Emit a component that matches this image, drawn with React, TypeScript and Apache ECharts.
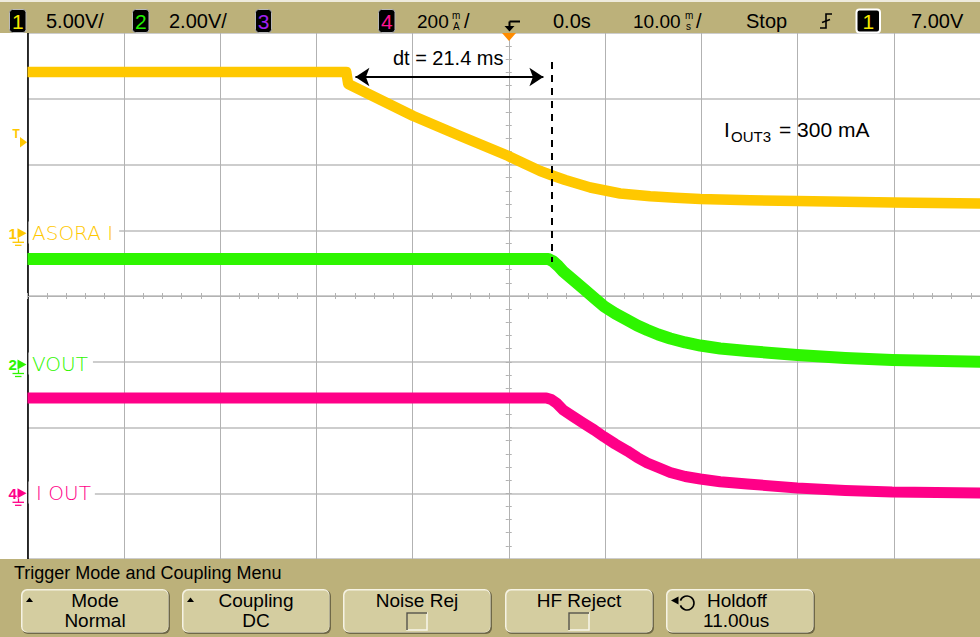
import React, { useEffect, useRef } from 'react';
import * as echarts from 'echarts';

// ---- Data (time in ms, vertical position in screen divisions; 0 = centre line) ----
const yellowTime = [-50, -16.88, -16.68, -13.35, -9.92, -5.04, -0.05, 1.71, 3.27, 4.52, 5.87, 8.47, 11.58, 14.7, 17.3, 19.9, 25.09, 29.97, 39.95, 50];
const yellowDiv = [3.407, 3.407, 3.224, 2.986, 2.738, 2.433, 2.129, 2.008, 1.901, 1.833, 1.764, 1.65, 1.559, 1.516, 1.494, 1.475, 1.456, 1.445, 1.422, 1.407];

const greenTime = [-50, 4.1, 4.62, 5.14, 5.66, 6.7, 7.74, 8.88, 9.92, 11.06, 12.31, 13.35, 14.39, 15.53, 16.78, 18.34, 19.9, 21.97, 24.78, 29.97, 34.96, 39.84, 50];
const greenDiv = [0.563, 0.563, 0.525, 0.456, 0.373, 0.243, 0.114, -0.03, -0.16, -0.266, -0.365, -0.449, -0.517, -0.586, -0.646, -0.707, -0.753, -0.798, -0.837, -0.897, -0.943, -0.973, -1.004];

const pinkTime = [-50, 3.9, 4.42, 4.94, 5.66, 6.7, 7.74, 8.88, 9.92, 11.06, 12.31, 13.35, 14.39, 15.53, 16.78, 18.34, 19.9, 21.97, 24.78, 29.97, 34.96, 39.84, 50];
const pinkDiv = [-1.551, -1.551, -1.574, -1.627, -1.734, -1.833, -1.932, -2.038, -2.144, -2.251, -2.357, -2.456, -2.54, -2.608, -2.684, -2.745, -2.783, -2.826, -2.859, -2.92, -2.958, -2.981, -2.996];

// annotation values
const dtStart = -15.93; // arrow (symbol centre) left
const dtEnd = 3.6; // arrow (symbol centre) right
const dtLevel = 3.331;
const cursorTime = 4.49;
const cursorTop = 3.559;
const cursorBottom = 0.517;
const dtLabel = 'dt = 21.4 ms';
const dtLabelPos = [-6.29, 3.62];

const topTexts = ['5.00V/', '2.00V/', '200', '0.0s', '10.00', 'Stop', '7.00V'];
const menuTitle = 'Trigger Mode and Coupling Menu';

const FONT = '"Liberation Sans", Arial, Helvetica, sans-serif';
const BAR = '#BCB17A';
const FACE = '#D4CDA0';
const GRID_V = '#B2B2B2';
const GRID_H = '#CDCDCD';
const C_YEL = '#FFC800';
const C_GRN = '#2EF500';
const C_PNK = '#FF0088';

const pairs = (xs: number[], ys: number[]) => xs.map((x, i) => [x, ys[i]]);

function txt(x: number, y: number, text: string, size: number, fill = '#000', align = 'left', extra: any = {}) {
  return {
    type: 'text', x, y, z: 110, silent: true,
    style: { text, fill, fontSize: size, fontFamily: FONT, align, verticalAlign: 'middle', ...extra },
  };
}

function chBox(x: number, w: number, label: string, color: string, border = '#B8B8B8', bw = 1) {
  return [
    { type: 'rect', z: 105, silent: true, shape: { x, y: 9.5, width: w, height: 23, r: 3 }, style: { fill: '#000', stroke: border, lineWidth: bw } },
    txt(x + w / 2, 21.5, label, 21, color, 'center'),
  ];
}

function chMarker(digit: string, color: string, yc: number) {
  return [
    txt(8.5, yc, digit, 15, color, 'left', { fontWeight: 'bold' }),
    { type: 'polygon', z: 60, silent: true, shape: { points: [[17.5, yc - 5], [17.5, yc + 5], [26.5, yc]] }, style: { fill: color } },
    { type: 'line', z: 60, silent: true, shape: { x1: 18.5, y1: yc + 5, x2: 18.5, y2: yc + 9 }, style: { stroke: color, lineWidth: 1.3 } },
    { type: 'line', z: 60, silent: true, shape: { x1: 12.5, y1: yc + 9, x2: 24, y2: yc + 9 }, style: { stroke: color, lineWidth: 1.3 } },
    { type: 'line', z: 60, silent: true, shape: { x1: 15, y1: yc + 12, x2: 21.5, y2: yc + 12 }, style: { stroke: color, lineWidth: 1.3 } },
  ];
}

function button(bx: number, l1: string, l2: string | null, kind: string) {
  const cx = bx + 74;
  const els: any[] = [
    { type: 'rect', z: 101, silent: true, shape: { x: bx + 1, y: 590, width: 148, height: 44, r: 6 }, style: { fill: '#6F6847' } },
    { type: 'rect', z: 102, silent: true, shape: { x: bx, y: 589, width: 147.5, height: 43.5, r: 6 }, style: { fill: '#F6F3E4' } },
    { type: 'rect', z: 103, silent: true, shape: { x: bx + 1.5, y: 590.5, width: 145.5, height: 41.5, r: 5 }, style: { fill: FACE } },
  ];
  if (kind === 'tri') {
    els.push({ type: 'polygon', z: 110, silent: true, shape: { points: [[bx + 5, 602], [bx + 12, 602], [bx + 8.5, 597.5]] }, style: { fill: '#000' } });
  }
  if (kind === 'hold') {
    els.push(txt(707, 600.5, l1, 19));
    els.push(txt(703, 620.5, l2 as string, 19));
    els.push({ type: 'arc', z: 110, silent: true, shape: { cx: 687, cy: 603, r: 7, startAngle: (200 * Math.PI) / 180, endAngle: (520 * Math.PI) / 180, clockwise: true }, style: { stroke: '#000', lineWidth: 1.6, fill: null } });
    els.push({ type: 'polygon', z: 110, silent: true, shape: { points: [[671, 600.5], [678.5, 596.5], [678.5, 604.5]] }, style: { fill: '#000' } });
    return els;
  }
  els.push(txt(cx, 600.5, l1, 19, '#000', 'center'));
  if (l2) els.push(txt(cx, 620.5, l2, 19, '#000', 'center'));
  if (kind === 'check') {
    els.push({ type: 'rect', z: 110, silent: true, shape: { x: cx - 10, y: 613, width: 20, height: 17 }, style: { fill: FACE, stroke: '#F8F6EA', lineWidth: 1.5 } });
    els.push({ type: 'polyline', z: 111, silent: true, shape: { points: [[cx - 10, 630], [cx - 10, 613], [cx + 10, 613]] }, style: { stroke: '#55523F', lineWidth: 1.5, fill: null } });
  }
  return els;
}

const tickAxis = (pos: string) => ({
  type: 'value', min: -50, max: 50, interval: 10, position: pos,
  axisLine: { show: true, onZero: true, onZeroAxisIndex: 0, lineStyle: { color: GRID_V, width: 1 } },
  axisTick: { show: true, length: 3, lineStyle: { color: GRID_V } },
  minorTick: { show: true, splitNumber: 5, length: 3, lineStyle: { color: GRID_V } },
  axisLabel: { show: false },
  splitLine: { show: false },
});

const vTickAxis = (pos: string) => ({
  type: 'value', min: -4, max: 4, interval: 1, position: pos,
  axisLine: { show: true, onZero: true, onZeroAxisIndex: 0, lineStyle: { color: GRID_V, width: 1 } },
  axisTick: { show: true, length: 3, lineStyle: { color: GRID_V } },
  minorTick: { show: true, splitNumber: 5, length: 3, lineStyle: { color: GRID_V } },
  axisLabel: { show: false },
  splitLine: { show: false },
});

const traceStyle = (color: string, width: number) => ({
  showSymbol: false, symbol: 'none', silent: true, z: 3,
  smooth: false,
  lineStyle: { color, width, join: 'round' },
});

export default function App() {
  const ref = useRef<HTMLDivElement>(null);
  useEffect(() => {
    const chart = echarts.init(ref.current as HTMLDivElement, null, { renderer: 'svg' });

    const graphic: any[] = [
      // top status bar
      { type: 'rect', z: 100, silent: true, shape: { x: 0, y: 0, width: 992, height: 33 }, style: { fill: BAR } },
      { type: 'rect', z: 101, silent: true, shape: { x: 0, y: 0, width: 992, height: 2 }, style: { fill: '#EEEBDD' } },
      ...chBox(9.5, 16.5, '1', '#F5E800'),
      txt(46, 21, topTexts[0], 20),
      ...chBox(132.5, 16.5, '2', '#22EE00'),
      txt(169, 21, topTexts[1], 20),
      ...chBox(255.5, 16, '3', '#A020F0'),
      ...chBox(378.5, 16.5, '4', '#FF1493'),
      txt(417, 21, topTexts[2], 19),
      txt(452, 15.5, 'm', 10),
      txt(453, 26, 'A', 10),
      txt(464, 21, '/', 20),
      // trigger position symbol
      { type: 'line', z: 110, silent: true, shape: { x1: 509.5, y1: 21.5, x2: 520, y2: 21.5 }, style: { stroke: '#000', lineWidth: 2 } },
      { type: 'line', z: 110, silent: true, shape: { x1: 509.5, y1: 21.5, x2: 509.5, y2: 27 }, style: { stroke: '#000', lineWidth: 2 } },
      { type: 'polygon', z: 110, silent: true, shape: { points: [[504.5, 26], [514.5, 26], [509.5, 31.5]] }, style: { fill: '#000' } },
      { type: 'polygon', z: 110, silent: true, shape: { points: [[502, 33], [516, 33], [509, 41]] }, style: { fill: '#FF8C00' } },
      txt(553, 21, topTexts[3], 20),
      txt(633, 21, topTexts[4], 19),
      txt(685, 15.5, 'm', 10),
      txt(686, 26, 's', 10),
      txt(696, 21, '/', 20),
      txt(746, 21, topTexts[5], 20),
      { type: 'polyline', z: 110, silent: true, shape: { points: [[820, 28], [826, 28], [826, 14], [832, 14]] }, style: { stroke: '#000', lineWidth: 1.6, fill: null } },
      { type: 'line', z: 110, silent: true, shape: { x1: 822, y1: 22.5, x2: 830, y2: 19.5 }, style: { stroke: '#000', lineWidth: 1.4 } },
      ...chBox(856.5, 23.5, '1', '#F5E800', '#FFFFFF', 2),
      txt(911, 21, topTexts[6], 20),

      // left channel markers
      txt(12.5, 134, 'T', 12, C_YEL, 'left', { fontWeight: 'bold' }),
      { type: 'polygon', z: 60, silent: true, shape: { points: [[20, 137], [20, 147.5], [27, 142.3]] }, style: { fill: C_YEL } },
      ...chMarker('1', C_YEL, 233.3),
      ...chMarker('2', C_GRN, 364.5),
      ...chMarker('4', C_PNK, 493.3),

      // channel labels
      { type: 'text', x: 28.5, y: 232.5, z: 50, silent: true, style: { text: 'ASORA I', fill: C_YEL, fontSize: 20, fontWeight: 200, fontFamily: '"DejaVu Sans", sans-serif', align: 'left', verticalAlign: 'middle', backgroundColor: '#fff', padding: [1, 6, 1, 3.5] } },
      { type: 'text', x: 28.5, y: 363.5, z: 50, silent: true, style: { text: 'VOUT', fill: C_GRN, fontSize: 20, fontWeight: 200, fontFamily: '"DejaVu Sans", sans-serif', align: 'left', verticalAlign: 'middle', backgroundColor: '#fff', padding: [1, 5, 1, 3.5] } },
      { type: 'text', x: 28.5, y: 492.5, z: 50, silent: true, style: { text: 'I OUT', fill: C_PNK, fontSize: 20, fontWeight: 200, fontFamily: '"DejaVu Sans", sans-serif', align: 'left', verticalAlign: 'middle', backgroundColor: '#fff', padding: [1, 4, 1, 7.5] } },

      // I_OUT3 annotation
      { type: 'text', x: 724, y: 129, z: 60, silent: true, style: { text: 'I', fill: '#000', fontSize: 21, fontFamily: FONT, align: 'left', verticalAlign: 'middle' } },
      { type: 'text', x: 731, y: 136, z: 60, silent: true, style: { text: 'OUT3', fill: '#000', fontSize: 15, fontFamily: FONT, align: 'left', verticalAlign: 'middle' } },
      { type: 'text', x: 779, y: 129, z: 60, silent: true, style: { text: '= 300 mA', fill: '#000', fontSize: 21, fontFamily: FONT, align: 'left', verticalAlign: 'middle' } },

      // bottom menu
      { type: 'rect', z: 100, silent: true, shape: { x: 0, y: 559, width: 992, height: 78 }, style: { fill: BAR } },
      txt(14, 572.5, menuTitle, 18),
      ...button(21, 'Mode', 'Normal', 'tri'),
      ...button(182, 'Coupling', 'DC', 'tri'),
      ...button(343, 'Noise Rej', null, 'check'),
      ...button(505, 'HF Reject', null, 'check'),
      ...button(666, 'Holdoff', '11.00us', 'hold'),
    ];

    const option: any = {
      animation: false,
      backgroundColor: '#ffffff',
      grid: { left: 27.5, right: 0, top: 33, bottom: 78, containLabel: false },
      xAxis: [
        {
          type: 'value', min: -50, max: 50, interval: 10, position: 'bottom',
          axisLine: { show: true, onZero: true, onZeroAxisIndex: 0, lineStyle: { color: GRID_V, width: 1 } },
          axisTick: { show: true, length: 3, lineStyle: { color: GRID_V } },
          minorTick: { show: true, splitNumber: 5, length: 3, lineStyle: { color: GRID_V } },
          axisLabel: { show: false },
          splitLine: { show: true, lineStyle: { color: GRID_V, width: 1 } },
        },
        tickAxis('top'),
      ],
      yAxis: [
        {
          type: 'value', min: -4, max: 4, interval: 1, position: 'left',
          axisLine: { show: true, onZero: false, lineStyle: { color: '#000', width: 1.6 } },
          axisTick: { show: false },
          axisLabel: { show: false },
          splitLine: { show: true, lineStyle: { color: GRID_H, width: 2 } },
        },
        vTickAxis('left'),
        vTickAxis('right'),
      ],
      graphic,
      series: [
        { name: 'ASORA I', type: 'line', xAxisIndex: 0, yAxisIndex: 0, data: pairs(yellowTime, yellowDiv), ...traceStyle(C_YEL, 10.5) },
        { name: 'VOUT', type: 'line', xAxisIndex: 0, yAxisIndex: 0, data: pairs(greenTime, greenDiv), ...traceStyle(C_GRN, 12) },
        { name: 'I OUT', type: 'line', xAxisIndex: 0, yAxisIndex: 0, data: pairs(pinkTime, pinkDiv), ...traceStyle(C_PNK, 11) },
        {
          name: 'annotation', type: 'line', xAxisIndex: 0, yAxisIndex: 0, data: [], z: 6, silent: true,
          markLine: {
            silent: true, animation: false,
            label: { show: false },
            lineStyle: { color: '#000', width: 2, type: 'solid' },
            data: [
              [
                { coord: [dtStart, dtLevel], symbol: 'arrow', symbolSize: 14 },
                { coord: [dtEnd, dtLevel], symbol: 'arrow', symbolSize: 14 },
              ],
              [
                { coord: [cursorTime, cursorTop], symbol: 'none', lineStyle: { color: '#000', width: 2, type: [7, 6] } },
                { coord: [cursorTime, cursorBottom], symbol: 'none' },
              ],
            ],
          },
          markPoint: {
            silent: true,
            symbol: 'circle', symbolSize: 1,
            itemStyle: { color: 'rgba(0,0,0,0)' },
            label: { show: true, position: 'inside', color: '#000', fontSize: 20, fontFamily: FONT, formatter: dtLabel },
            data: [{ coord: dtLabelPos }],
          },
        },
      ],
    };

    chart.setOption(option);
    return () => chart.dispose();
  }, []);

  return (
    <div style={{ position: 'absolute', left: 0, top: 0, width: 980, height: 637, overflow: 'hidden', background: '#fff' }}>
      <div ref={ref} style={{ position: 'absolute', left: 0, top: 0, width: 990, height: 637 }} />
    </div>
  );
}
